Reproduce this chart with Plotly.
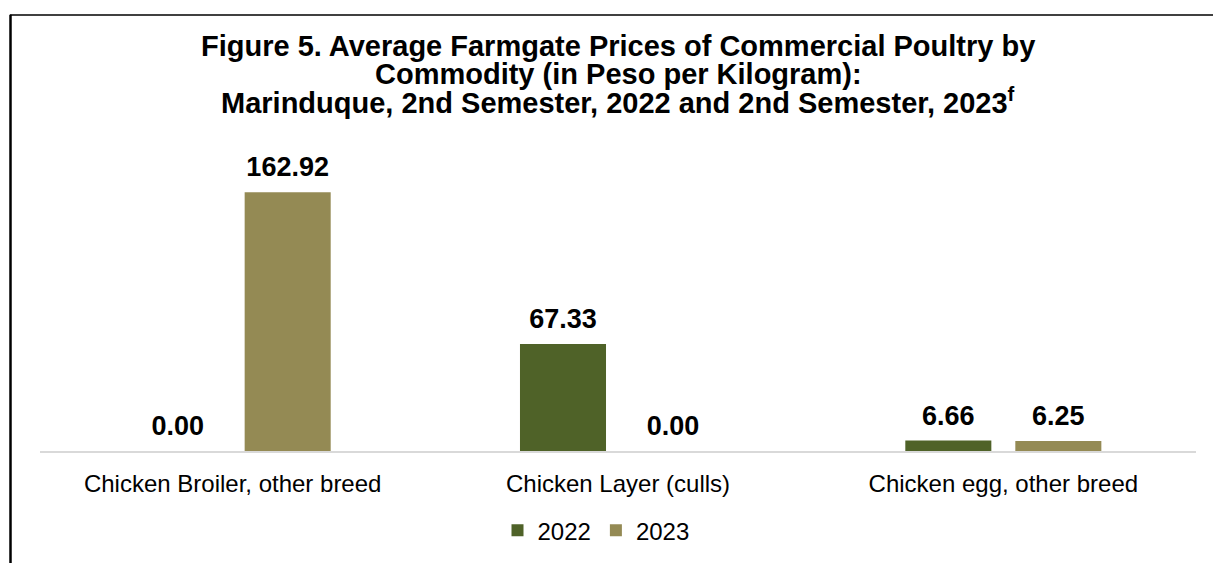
import plotly.graph_objects as go

categories = ["Chicken Broiler, other breed", "Chicken Layer (culls)", "Chicken egg, other breed"]
series_names = ["2022", "2023"]
values_2022 = [0.00, 67.33, 6.66]
values_2023 = [162.92, 0.00, 6.25]
colors = ["#4F6228", "#948A54"]

title_lines = [
    "<b>Figure 5. Average Farmgate Prices of Commercial Poultry by</b>",
    "<b>Commodity (in Peso per Kilogram):</b>",
    "<b>Marinduque, 2nd Semester, 2022 and 2nd Semester, 2023<sup>f</sup></b>",
]

FONT = "Liberation Sans, Arial, sans-serif"
W, H = 1213, 565
ML, MR, MT, MB = 40, 17, 165, 109
plot_w = W - ML - MR
plot_h = H - MT - MB
BARGAP = 0.429


def px_x(p):
    return (p - ML) / plot_w


def px_y(p):
    return (H - MB - p) / plot_h


fig = go.Figure()
for name, vals, col in zip(series_names, [values_2022, values_2023], colors):
    fig.add_trace(go.Bar(
        name=name, x=categories, y=vals, offsetgroup=name,
        marker=dict(color=col, line=dict(width=0)),
        hoverinfo="skip",
    ))
for name, vals in zip(series_names, [values_2022, values_2023]):
    fig.add_trace(go.Scatter(
        x=categories, y=vals, offsetgroup=name, mode="markers+text",
        text=[f"{v:.2f}" for v in vals], textposition="top center",
        textfont=dict(family=FONT, size=27, color="#000000", weight="bold"),
        marker=dict(size=13, opacity=0, color="white"),
        showlegend=False, hoverinfo="skip", cliponaxis=False,
    ))

title_y = [44, 72, 100]
annotations = [
    dict(text=t, xref="paper", yref="paper", x=0.5, y=px_y(yy), xanchor="center", yanchor="middle",
         showarrow=False, font=dict(family=FONT, size=29, color="#000000"))
    for t, yy in zip(title_lines, title_y)
]

fig.update_layout(
    width=W, height=H,
    margin=dict(l=ML, r=MR, t=MT, b=MB),
    paper_bgcolor="white", plot_bgcolor="white",
    barmode="group", bargap=BARGAP, bargroupgap=0.218,
    scattermode="group", scattergap=BARGAP,
    font=dict(family=FONT, color="#000000"),
    annotations=annotations,
    showlegend=True,
    legend=dict(orientation="h", x=px_x(596), xanchor="center", y=px_y(537), yanchor="middle",
                font=dict(size=24, family=FONT, color="#000000"), bgcolor="rgba(0,0,0,0)",
                itemclick=False, itemdoubleclick=False),
    xaxis=dict(showline=True, linecolor="#D9D9D9", linewidth=2, ticks="", showgrid=False,
               tickfont=dict(size=24, family=FONT, color="#000000"),
               ticklabelstandoff=10),
    yaxis=dict(range=[0, 180], visible=False, showgrid=False, zeroline=False),
    shapes=[
        dict(type="line", xref="paper", yref="paper", x0=px_x(10), x1=px_x(1214), y0=px_y(12.5), y1=px_y(12.5),
             line=dict(color="#000000", width=1.5)),
        dict(type="line", xref="paper", yref="paper", x0=px_x(10.5), x1=px_x(10.5), y0=px_y(12), y1=px_y(570),
             line=dict(color="#000000", width=2.5)),
    ],
)

fig.write_html("out.html", config={"displayModeBar": False},
               post_script="document.body.style.margin='0px';")
